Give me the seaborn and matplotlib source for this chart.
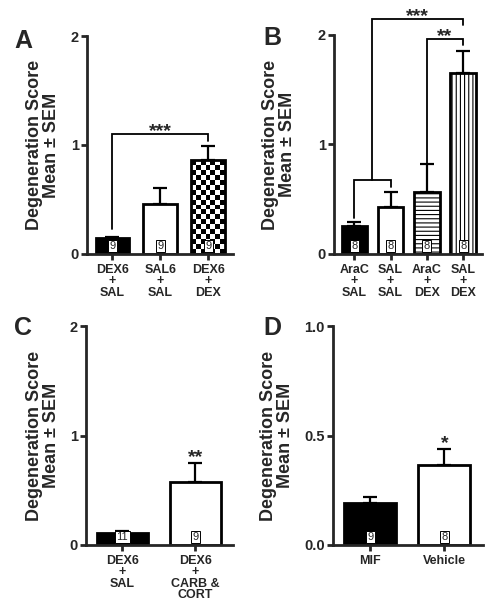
import numpy as np
import matplotlib
matplotlib.use('Agg')
from matplotlib import pyplot as plt
from matplotlib import transforms
import seaborn as sns

sns.set_style('ticks')
plt.rcParams['font.family'] = ['Liberation Sans', 'DejaVu Sans']
plt.rcParams['font.weight'] = 'bold'
plt.rcParams['axes.labelweight'] = 'bold'
plt.rcParams['hatch.linewidth'] = 0.8

# panel A
a_groups = ['DEX6\n+\nSAL', 'SAL6\n+\nSAL', 'DEX6\n+\nDEX']
a_mean = [0.145, 0.46, 0.86]
a_sem = [0.015, 0.15, 0.135]
a_n = [9, 9, 9]
a_fill = ['black', 'white', 'checker']

# panel B
b_groups = ['AraC\n+\nSAL', 'SAL\n+\nSAL', 'AraC\n+\nDEX', 'SAL\n+\nDEX']
b_mean = [0.256, 0.43, 0.57, 1.656]
b_sem = [0.04, 0.135, 0.25, 0.2]
b_n = [8, 8, 8, 8]
b_fill = ['black', 'white', 'hlines', 'vlines']

# panel C
c_groups = ['DEX6\n+\nSAL', 'DEX6\n+\nCARB &\nCORT']
c_mean = [0.112, 0.576]
c_sem = [0.015, 0.175]
c_n = [11, 9]
c_fill = ['black', 'white']

# panel D
d_groups = ['MIF', 'Vehicle']
d_mean = [0.192, 0.367]
d_sem = [0.025, 0.073]
d_n = [9, 8]
d_fill = ['black', 'white']

# brackets: (x left, x right, left leg bottom, right leg bottom, top, stars)
a_brackets = [(0, 2, 0.23, 1.035, 1.10, '***')]
b_brackets = [(0, 1, 0.33, 0.61, 0.676, ''),
              (0.5, 3, 0.676, 2.09, 2.146, '***'),
              (2, 3, 0.83, 1.91, 1.963, '**')]
# stars on single bars: (bar index, stars)
c_stars = [(1, '**')]
d_stars = [(1, '*')]


def checker(ax, patch, ncols=7, cell_h=0.045):
    x0, y0 = patch.get_x(), patch.get_y()
    w, h = patch.get_width(), patch.get_height()
    nrows = int(round(h / cell_h))
    grid = np.indices((nrows, ncols)).sum(axis=0) % 2
    im = ax.imshow(grid, extent=(x0, x0 + w, y0, y0 + h), origin='lower',
                   cmap='gray', interpolation='nearest', aspect='auto',
                   zorder=patch.get_zorder() - 0.1)
    im.set_clip_path(patch)
    patch.set_facecolor('none')


def panel(rect, groups, mean, sem, n, fills, ylim, yticks, yticklabels,
          letter, letter_xy, label_x, brackets=(), stars=()):
    ax = fig.add_axes(rect)
    sns.barplot(x=groups, y=mean, ax=ax, color='white', edgecolor='black',
                linewidth=2, width=0.7, saturation=1, errorbar=None)
    bars = ax.patches[:len(groups)]
    xs = [p.get_x() + p.get_width() / 2 for p in bars]
    for p, f in zip(bars, fills):
        if f == 'black':
            p.set_facecolor('black')
        elif f == 'white':
            p.set_facecolor('white')
        elif f == 'hlines':
            p.set_facecolor('white')
            p.set_hatch('----')
        elif f == 'vlines':
            p.set_facecolor('white')
            p.set_hatch('||||')
        elif f == 'checker':
            checker(ax, p)
    ax.errorbar(xs, mean, yerr=[np.zeros(len(mean)), sem], fmt='none',
                ecolor='black', elinewidth=1.6, capsize=5, capthick=1.6,
                zorder=0.8)

    trans = transforms.blended_transform_factory(ax.transData, ax.transAxes)
    for x, k in zip(xs, n):
        ax.text(x, 0.013, str(k), transform=trans, ha='center', va='bottom',
                fontsize=8, fontweight='normal', zorder=5,
                bbox=dict(boxstyle='square,pad=0.12', fc='white', ec='black', lw=0.7))

    for xl, xr, yl, yr, top, s in brackets:
        ax.plot([xl, xl, xr, xr], [yl, top, top, yr], color='black', lw=1.3,
                clip_on=False, solid_joinstyle='miter')
        if s:
            ax.annotate(s, ((xl + xr) / 2, top), xytext=(0, -1.5),
                        textcoords='offset points', ha='center', va='baseline',
                        fontsize=14, fontweight='bold', annotation_clip=False)
    for i, s in stars:
        ax.annotate(s, (xs[i], mean[i] + sem[i]), xytext=(0, 0.5),
                    textcoords='offset points', ha='center', va='baseline',
                    fontsize=14, fontweight='bold', annotation_clip=False)

    ax.set_xlim(-0.5 - 0.03 * (len(groups) - 2), len(groups) - 0.48)
    ax.set_ylim(*ylim)
    ax.set_yticks(yticks)
    ax.set_yticklabels(yticklabels, fontweight='bold')
    ax.set_xticks(range(len(groups)))
    ax.set_xticklabels(groups, fontweight='bold', linespacing=0.95)
    sns.despine(ax=ax)
    for side in ['left', 'bottom']:
        ax.spines[side].set_linewidth(2)
    ax.tick_params(axis='y', width=2, length=4, labelsize=10.5, pad=2)
    ax.tick_params(axis='x', width=2, length=4, labelsize=9, pad=3)
    ax.set_xlabel('')
    ax.set_ylabel('Degeneration Score\nMean \u00b1 SEM', fontsize=13,
                  fontweight='bold', linespacing=1.0)
    ax.yaxis.set_label_coords(label_x, 0.5)
    fig.text(letter_xy[0] / 502, 1 - letter_xy[1] / 610, letter, fontsize=18,
             fontweight='bold', ha='left', va='baseline')
    return ax


fig = plt.figure(figsize=(5.02, 6.10), dpi=100)

panel([87 / 502, 1 - 254 / 610, 146 / 502, 218 / 610], a_groups, a_mean, a_sem,
      a_n, a_fill, (0, 2), [0, 1, 2], ['0', '1', '2'], 'A', (14, 48), -0.185,
      brackets=a_brackets)
panel([334 / 502, 1 - 254 / 610, 148 / 502, 219 / 610], b_groups, b_mean, b_sem,
      b_n, b_fill, (0, 2), [0, 1, 2], ['0', '1', '2'], 'B', (263, 45), -0.257,
      brackets=b_brackets)
panel([86 / 502, 1 - 545 / 610, 147 / 502, 219 / 610], c_groups, c_mean, c_sem,
      c_n, c_fill, (0, 2), [0, 1, 2], ['0', '1', '2'], 'C', (14, 335), -0.177,
      stars=c_stars)
panel([333 / 502, 1 - 545 / 610, 150 / 502, 219 / 610], d_groups, d_mean, d_sem,
      d_n, d_fill, (0, 1), [0, 0.5, 1.0], ['0.0', '0.5', '1.0'], 'D', (263, 335),
      -0.26, stars=d_stars)

fig.savefig('out.png', dpi=100)
